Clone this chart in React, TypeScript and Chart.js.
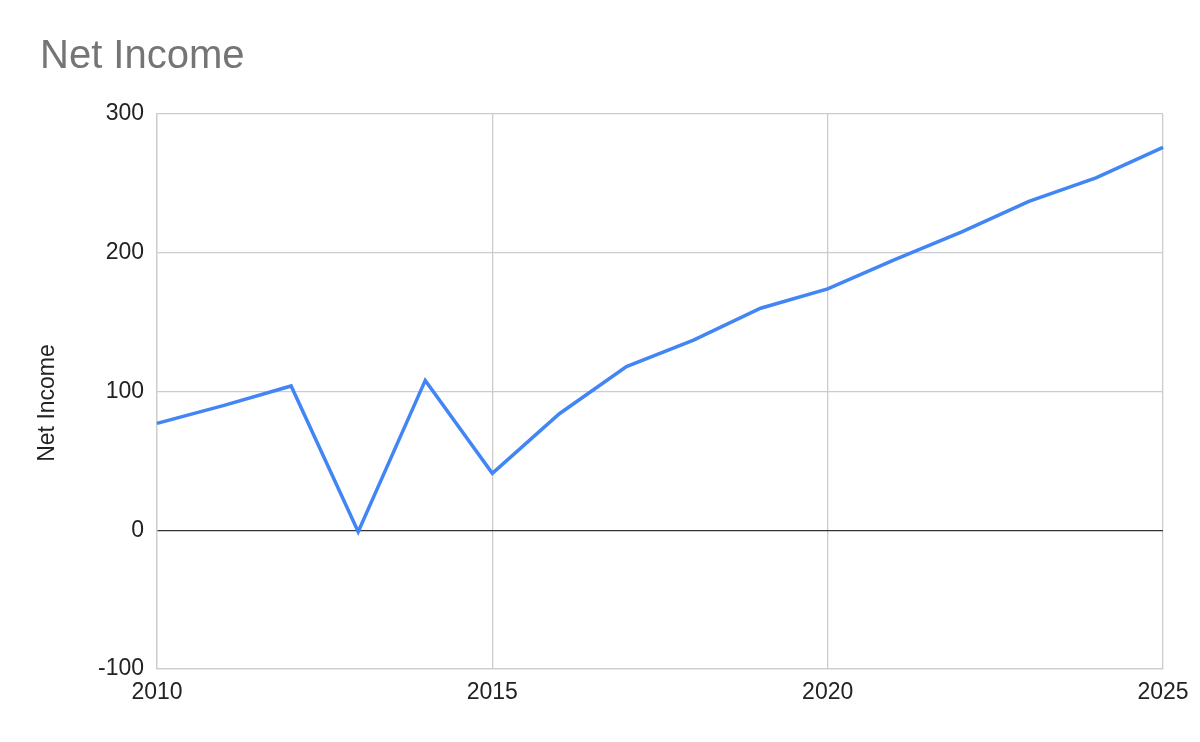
import React, { useEffect, useRef } from 'react';
import { Chart, registerables } from 'chart.js';

Chart.register(...registerables);

const years = [2010, 2011, 2012, 2013, 2014, 2015, 2016, 2017, 2018, 2019, 2020, 2021, 2022, 2023, 2024, 2025];
const netIncome = [77, 90, 104, -1, 108, 41, 84, 118, 137, 160, 174, 195, 215, 237, 254, 276];
const xTicks = [2010, 2015, 2020, 2025];
const yTicks = [-100, 0, 100, 200, 300];

const FONT = '"Liberation Sans", Arial, sans-serif';

// rotated y-axis title, placed like the Sheets export
const yTitlePlugin = {
  id: 'yTitle',
  afterDraw: (chart: Chart) => {
    const { ctx } = chart;
    ctx.save();
    ctx.translate(47.5, 403);
    ctx.rotate(-Math.PI / 2);
    ctx.font = `23px ${FONT}`;
    ctx.fillStyle = '#222222';
    ctx.textAlign = 'center';
    ctx.textBaseline = 'middle';
    ctx.fillText('Net Income', 0, 0);
    ctx.restore();
  },
};

export default function App() {
  const chartRef = useRef<HTMLCanvasElement>(null);

  useEffect(() => {
    document.body.style.margin = '0';
    if (!chartRef.current) return;

    const chart = new Chart(chartRef.current, {
      type: 'line',
      data: {
        datasets: [
          {
            label: 'Net Income',
            data: years.map((y, i) => ({ x: y, y: netIncome[i] })),
            borderColor: '#4285F4',
            borderWidth: 3.5,
            pointRadius: 0,
            tension: 0,
            clip: false,
          },
        ],
      },
      options: {
        responsive: false,
        animation: false,
        devicePixelRatio: 1,
        layout: { padding: { left: 40, right: 37, top: 0, bottom: 0 } },
        plugins: {
          legend: { display: false },
          tooltip: { enabled: false },
          title: {
            display: true,
            text: 'Net Income',
            align: 'start',
            color: '#757575',
            font: { family: FONT, size: 40, weight: 'normal' },
            padding: { top: 33, bottom: 33 },
          },
        },
        scales: {
          x: {
            type: 'linear',
            min: 2010,
            max: 2025,
            afterBuildTicks: (scale) => {
              scale.ticks = xTicks.map((v) => ({ value: v }));
            },
            afterFit: (scale) => {
              scale.height = 742 - 669;
            },
            ticks: {
              color: '#222222',
              font: { family: FONT, size: 23 },
              padding: 10,
              maxRotation: 0,
              callback: (v) => String(v),
            },
            grid: { color: '#cccccc', lineWidth: 1.3, drawTicks: false },
            border: { color: '#cccccc', width: 1.3 },
          },
          y: {
            type: 'linear',
            min: -100,
            max: 300,
            afterBuildTicks: (scale) => {
              scale.ticks = yTicks.map((v) => ({ value: v }));
            },
            afterFit: (scale) => {
              scale.width = 157 - 40;
            },
            ticks: {
              color: '#222222',
              font: { family: FONT, size: 23 },
              padding: 13,
              callback: (v) => String(v),
            },
            grid: {
              color: (ctx) => (ctx.tick && ctx.tick.value === 0 ? '#333333' : '#cccccc'),
              lineWidth: 1.3,
              drawTicks: false,
            },
            border: { color: '#cccccc', width: 1.3 },
          },
        },
      },
      plugins: [yTitlePlugin],
    });

    return () => {
      chart.destroy();
    };
  }, []);

  return <canvas ref={chartRef} width={1200} height={742} />;
}
